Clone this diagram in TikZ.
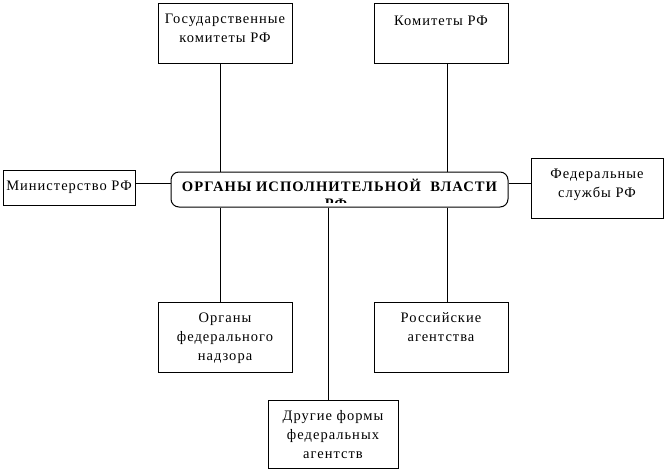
\documentclass[tikz,border=0pt]{standalone}
\usepackage{fontspec}
\setmainfont{Liberation Serif}[LetterSpace=7]
\usepackage{graphicx}
\begin{document}
\begin{tikzpicture}[x=1pt,y=-1pt,
  box/.style={draw, line width=1pt, inner sep=0pt},
  txt/.style={font=\fontsize{14.5}{19}\selectfont, align=center, inner sep=0pt, anchor=base},
  link/.style={line width=1pt}]
\useasboundingbox (0,0) rectangle (666,472);
% boxes
\node[box, minimum width=134pt, minimum height=60pt] (g) at (225,33) {};
\node[box, minimum width=134pt, minimum height=60pt] (k) at (441,33) {};
\node[box, minimum width=132pt, minimum height=35pt] (m) at (69,187.5) {};
\node[box, rounded corners=8pt, minimum width=337pt, minimum height=35pt] (c) at (339.5,189.5) {};
\node[box, minimum width=132pt, minimum height=60pt] (f) at (597,188) {};
\node[box, minimum width=134pt, minimum height=70pt] (o) at (225,337) {};
\node[box, minimum width=134pt, minimum height=70pt] (r) at (441,337) {};
\node[box, minimum width=130pt, minimum height=68pt] (d) at (333,434) {};
% texts (anchor base = baseline of last line)
\node[txt] (tg) at (225,42) {Государственные\\комитеты РФ};
\node[txt] (tk) at (441,25) {Комитеты РФ};
\node[txt] (tm) at (69,190) {Министерство РФ};
\node[txt] (tf) at (597,197) {Федеральные\\службы РФ};
\node[txt] (to) at (225,360) {Органы\\федерального\\надзора};
\node[txt] (tr) at (441,341) {Российские\\агентства};
\node[txt] (td) at (333,458) {Другие формы\\федеральных\\агентств};
\node[txt] (tc) at (339.5,191) {\resizebox{315pt}{\height}{\bfseries ОРГАНЫ ИСПОЛНИТЕЛЬНОЙ\ \ ВЛАСТИ}};
\begin{scope}
\clip (172,173) rectangle (507,202.5);
\node[txt] (tc2) at (336,208) {\bfseries РФ};
\end{scope}
% connectors
\coordinate (xl) at (220,0);
\coordinate (xr) at (447,0);
\coordinate (xm) at (328,0);
\coordinate (yh) at (0,183);
\draw[link] (xl |- g.south) -- (xl |- c.north);
\draw[link] (xl |- c.south) -- (xl |- o.north);
\draw[link] (xr |- k.south) -- (xr |- c.north);
\draw[link] (xr |- c.south) -- (xr |- r.north);
\draw[link] (xm |- c.south) -- (xm |- d.north);
\draw[link] (m.east |- yh) -- (c.west |- yh);
\draw[link] (c.east |- yh) -- (f.west |- yh);
\end{tikzpicture}
\end{document}
